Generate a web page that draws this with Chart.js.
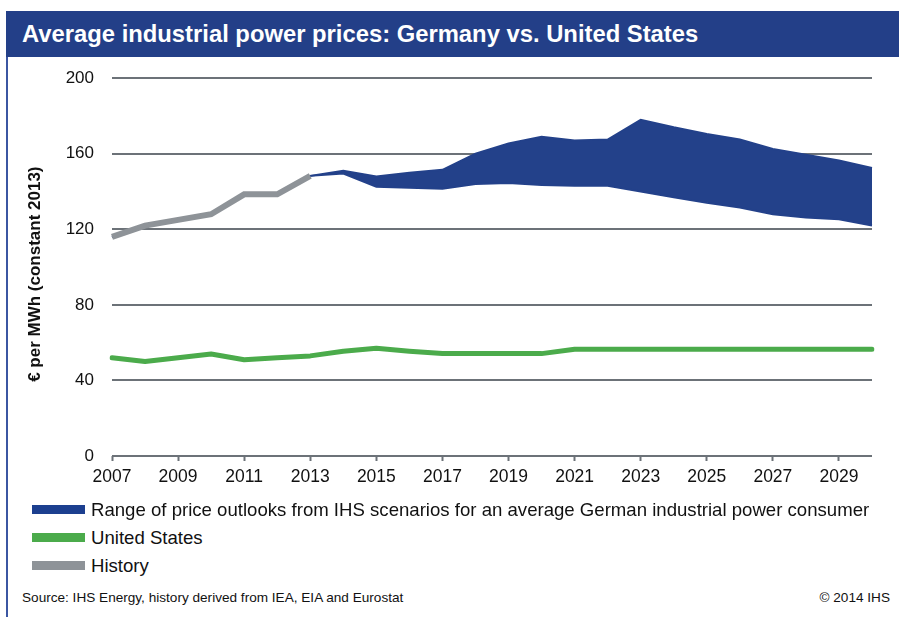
<!DOCTYPE html>
<html>
<head>
<meta charset="utf-8">
<script src="https://cdn.jsdelivr.net/npm/chart.js@4/dist/chart.umd.min.js"></script>
<style>
  body { margin: 0; background: #fff; font-family: "Liberation Sans", Arial, sans-serif; }
  #page { position: relative; width: 899px; height: 617px; overflow: hidden; }
  #titleBar { position: absolute; left: 6px; top: 11px; width: 893px; height: 46px; background: #233f88; }
  #titleBar span { position: absolute; left: 16px; top: 9px; color: #fff; font-weight: bold; font-size: 23.8px; white-space: nowrap; }
  #frameLeft { position: absolute; left: 6px; top: 57px; width: 2px; height: 560px; background: #3b56a2; }
  #chartBox { position: absolute; left: 0; top: 50px; }
  .legend-row { position: absolute; left: 32px; height: 22px; font-size: 18.6px; color: #111; white-space: nowrap; }
  .legend-row .swatch { position: absolute; left: 0; top: 6px; width: 53px; height: 9px; }
  .legend-row .label { position: absolute; left: 59px; top: 0; line-height: 21px; }
  #source { position: absolute; left: 22px; top: 590px; font-size: 13.6px; color: #111; }
  #copy { position: absolute; right: 9px; top: 590px; font-size: 13.6px; color: #111; }
</style>
</head>
<body>
<div id="page">
  <div id="titleBar"><span>Average industrial power prices: Germany vs. United States</span></div>
  <div id="frameLeft"></div>
  <div id="chartBox"><canvas id="priceChart" width="899" height="450"></canvas></div>
  <div class="legend-row" style="top:499px"><div class="swatch" style="background:#1c3f8f"></div><div class="label">Range of price outlooks from IHS scenarios for an average German industrial power consumer</div></div>
  <div class="legend-row" style="top:527px"><div class="swatch" style="background:#4bab4b"></div><div class="label">United States</div></div>
  <div class="legend-row" style="top:555px"><div class="swatch" style="background:#8e9398"></div><div class="label">History</div></div>
  <div id="source">Source: IHS Energy, history derived from IEA, EIA and Eurostat</div>
  <div id="copy">© 2014 IHS</div>
</div>
<script>
// Years on the x axis
const years = ['2007', '2008', '2009', '2010', '2011', '2012', '2013', '2014', '2015', '2016', '2017', '2018',
  '2019', '2020', '2021', '2022', '2023', '2024', '2025', '2026', '2027', '2028', '2029', '2030'];

// Germany: upper and lower edge of the scenario range (EUR/MWh, constant 2013)
const germanyHigh = [116, 122, 125, 128, 138.5, 138.5, 148.3, 151, 148, 150, 151.5, 160, 165.5, 169, 167, 167.5,
  178, 174, 170.5, 167.5, 162.5, 159.5, 156.5, 152.5];
const germanyLow = [116, 122, 125, 128, 138.5, 138.5, 148.3, 149.5, 142.5, 142, 141.5, 144, 144.5, 143.5, 143, 143,
  140, 137, 134, 131.5, 128, 126.3, 125.3, 122];

// United States
const usPrices = [52, 50, 52, 54, 51, 52, 53, 55.4, 57, 55.5, 54.2, 54.2, 54.2, 54.2, 56.5, 56.5,
  56.5, 56.5, 56.5, 56.5, 56.5, 56.5, 56.5, 56.5];

// History (Germany)
const history = [116, 122, 125, 128, 138.5, 138.5, 148.3, null, null, null, null, null,
  null, null, null, null, null, null, null, null, null, null, null, null];

const yTicks = [0, 40, 80, 120, 160, 200];

const BAND_BLUE = '#23418a';
const GREEN = '#4bab4b';
const GREY = '#8e9398';
const GRID = '#6c7278';

const ctx = document.getElementById('priceChart').getContext('2d');

new Chart(ctx, {
  type: 'line',
  data: {
    labels: years,
    datasets: [
      {
        label: 'Range high',
        data: germanyHigh,
        borderColor: BAND_BLUE,
        backgroundColor: BAND_BLUE,
        borderWidth: 2,
        fill: '+1',
        pointRadius: 0,
        tension: 0,
        order: 4
      },
      {
        label: 'Range low',
        data: germanyLow,
        borderColor: BAND_BLUE,
        backgroundColor: BAND_BLUE,
        borderWidth: 2,
        fill: false,
        pointRadius: 0,
        tension: 0,
        order: 3
      },
      {
        label: 'United States',
        data: usPrices,
        borderColor: GREEN,
        borderWidth: 5,
        borderCapStyle: 'round',
        borderJoinStyle: 'round',
        fill: false,
        pointRadius: 0,
        tension: 0,
        order: 2
      },
      {
        label: 'History',
        data: history,
        borderColor: GREY,
        borderWidth: 6,
        fill: false,
        pointRadius: 0,
        tension: 0,
        spanGaps: false,
        order: 1
      }
    ]
  },
  options: {
    responsive: false,
    animation: false,
    layout: { padding: { left: 8, right: 27, top: 13, bottom: 4 } },
    plugins: {
      legend: { display: false },
      tooltip: { enabled: false }
    },
    scales: {
      x: {
        offset: false,
        border: { display: false },
        grid: {
          drawOnChartArea: false,
          drawTicks: true,
          tickLength: 5,
          tickWidth: 2,
          tickColor: (c) => (c.index % 2 === 0 && c.index < years.length - 1) ? GRID : 'rgba(0,0,0,0)'
        },
        ticks: {
          autoSkip: false,
          maxRotation: 0,
          padding: 6,
          color: '#111',
          font: { family: 'Liberation Sans', size: 17.5 },
          callback: function (value, index) {
            return (index % 2 === 0 && index < years.length - 1) ? years[index] : '';
          }
        },
        afterFit: (scale) => { scale.height = 40; }
      },
      y: {
        min: 0,
        max: 200,
        border: { display: false },
        afterBuildTicks: (scale) => { scale.ticks = yTicks.map(v => ({ value: v })); },
        grid: {
          color: GRID,
          lineWidth: 2,
          drawTicks: false
        },
        ticks: {
          padding: 18,
          color: '#111',
          font: { family: 'Liberation Sans', size: 17 }
        },
        title: {
          display: true,
          text: '€ per MWh (constant 2013)   ',
          color: '#111',
          padding: { top: 17, bottom: 0 },
          font: { family: 'Liberation Sans', size: 17, weight: 'bold' }
        },
        afterFit: (scale) => { scale.width = 104; }
      }
    }
  }
});
</script>
</body>
</html>
